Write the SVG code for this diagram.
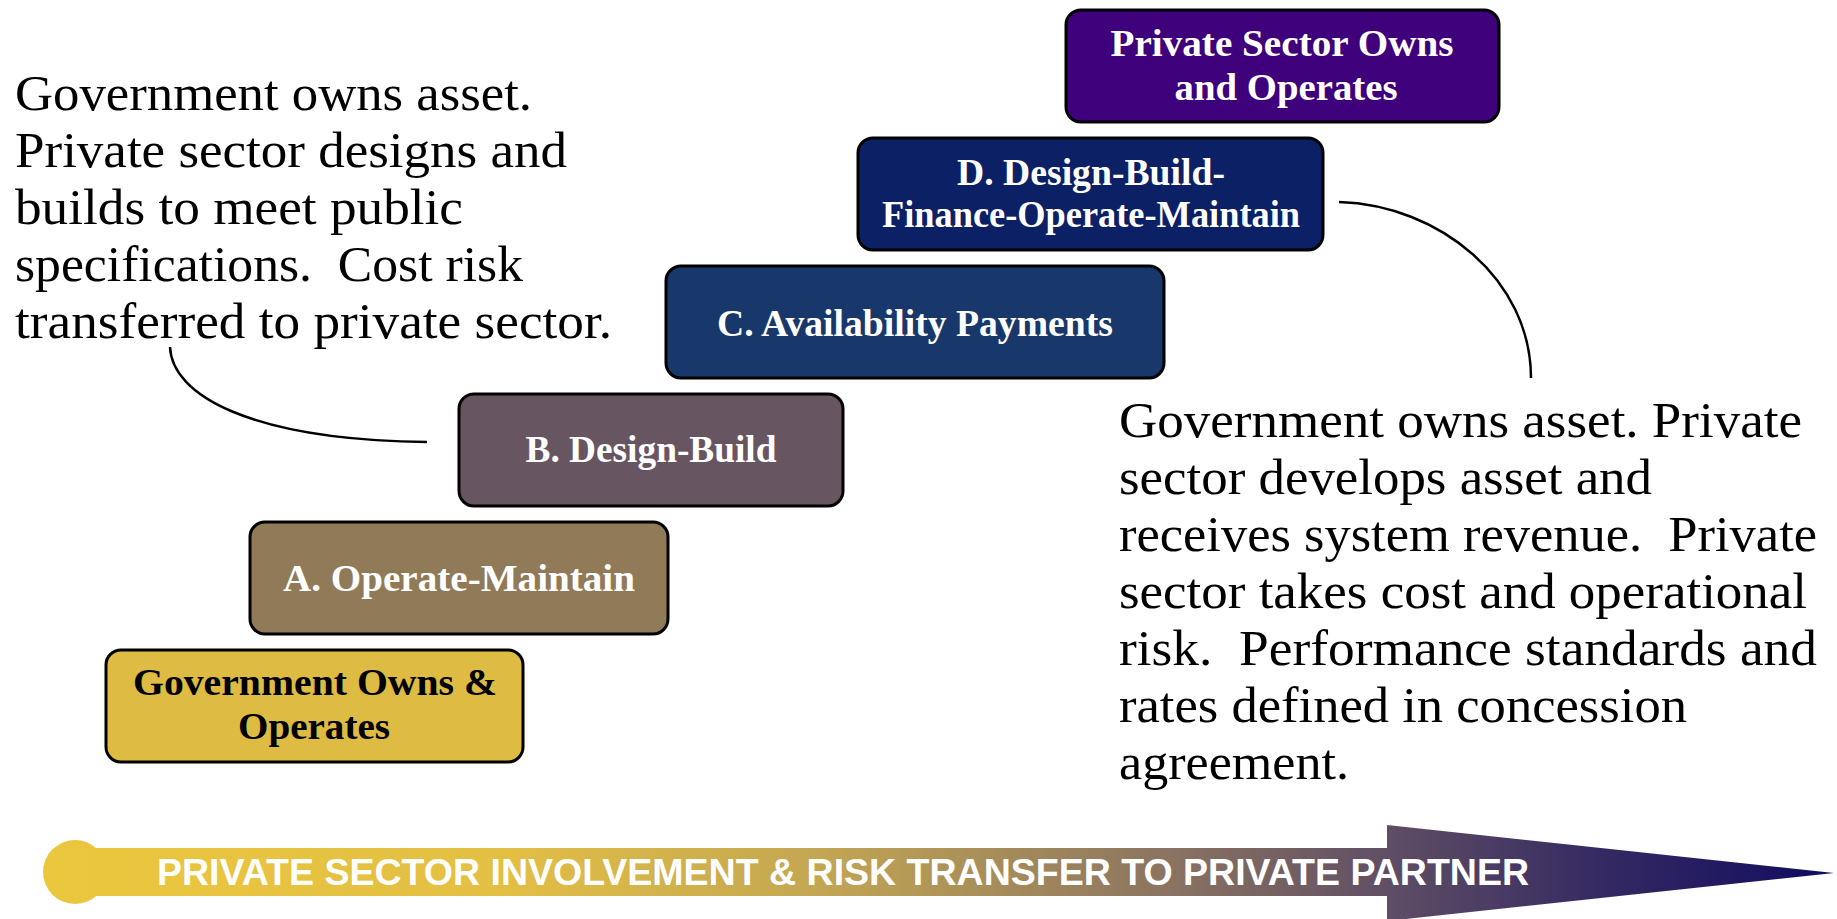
<svg xmlns="http://www.w3.org/2000/svg" width="1837" height="919" viewBox="0 0 1837 919">
  <defs>
    <style>
      .box { stroke: #000; stroke-width: 3; }
      .lbl { font-family: "Liberation Serif", "Times New Roman", serif; font-weight: bold; font-size: 38px; text-anchor: middle; fill: #fff; }
      .dark { fill: #000; }
      .note { font-family: "Liberation Serif", "Times New Roman", serif; font-size: 50px; fill: #000; }
      .conn { fill: none; stroke: #000; stroke-width: 2.5; }
      .band { font-family: "Liberation Sans", Arial, sans-serif; font-weight: bold; font-size: 36px; fill: #fff; }
    </style>
    <linearGradient id="arrowGrad" gradientUnits="userSpaceOnUse" x1="43" y1="0" x2="1834" y2="0">
      <stop offset="0" stop-color="#EBC73E"/>
      <stop offset="0.255" stop-color="#E3BF44"/>
      <stop offset="0.434" stop-color="#C3A653"/>
      <stop offset="0.63" stop-color="#8A7361"/>
      <stop offset="0.751" stop-color="#5F4E65"/>
      <stop offset="0.869" stop-color="#352A62"/>
      <stop offset="1" stop-color="#100B60"/>
    </linearGradient>
  </defs>

  <rect width="1837" height="919" fill="#fff"/>

  <!-- Bottom arrow -->
  <g id="arrow">
    <path d="M75,848 L1387,848 L1387,825 L1834,873 L1387,921 L1387,896 L75,896 Z" fill="url(#arrowGrad)"/>
    <circle cx="75" cy="872" r="32" fill="url(#arrowGrad)"/>
    <text class="band" x="157" y="885" textLength="1372" lengthAdjust="spacingAndGlyphs">PRIVATE SECTOR INVOLVEMENT &amp; RISK TRANSFER TO PRIVATE PARTNER</text>
  </g>

  <!-- Connectors -->
  <g id="connectors">
    <path class="conn" d="M170,347 C172,395 250,440 427,442"/>
    <path class="conn" d="M1339,202 C1440,205 1531,280 1531,378"/>
  </g>

  <!-- Nodes -->
  <g id="node-gov">
    <rect class="box" x="106" y="650" width="417" height="112" rx="15" fill="#DEBB43"/>
    <text class="lbl dark" x="315" y="695" textLength="364" lengthAdjust="spacingAndGlyphs">Government Owns &amp;</text>
    <text class="lbl dark" x="314" y="739" textLength="152" lengthAdjust="spacingAndGlyphs">Operates</text>
  </g>
  <g id="node-a">
    <rect class="box" x="250" y="522" width="418" height="112" rx="15" fill="#917A57"/>
    <text class="lbl" x="459" y="591" textLength="352" lengthAdjust="spacingAndGlyphs">A. Operate-Maintain</text>
  </g>
  <g id="node-b">
    <rect class="box" x="459" y="394" width="384" height="112" rx="15" fill="#675661"/>
    <text class="lbl" x="651" y="462" textLength="251" lengthAdjust="spacingAndGlyphs">B. Design-Build</text>
  </g>
  <g id="node-c">
    <rect class="box" x="666" y="266" width="498" height="112" rx="15" fill="#18386C"/>
    <text class="lbl" x="915" y="336" textLength="396" lengthAdjust="spacingAndGlyphs">C. Availability Payments</text>
  </g>
  <g id="node-d">
    <rect class="box" x="858" y="138" width="465" height="112" rx="15" fill="#0C2066"/>
    <text class="lbl" x="1091" y="185" textLength="268" lengthAdjust="spacingAndGlyphs">D. Design-Build-</text>
    <text class="lbl" x="1091" y="227" textLength="418" lengthAdjust="spacingAndGlyphs">Finance-Operate-Maintain</text>
  </g>
  <g id="node-private">
    <rect class="box" x="1066" y="10" width="433" height="112" rx="15" fill="#3F007C"/>
    <text class="lbl" x="1282" y="56" textLength="343" lengthAdjust="spacingAndGlyphs">Private Sector Owns</text>
    <text class="lbl" x="1286" y="100" textLength="223" lengthAdjust="spacingAndGlyphs">and Operates</text>
  </g>

  <!-- Notes -->
  <g id="note-left">
    <text class="note" x="15" y="110" textLength="517" lengthAdjust="spacingAndGlyphs">Government owns asset.</text>
    <text class="note" x="15" y="167" textLength="552" lengthAdjust="spacingAndGlyphs">Private sector designs and</text>
    <text class="note" x="15" y="224" textLength="448" lengthAdjust="spacingAndGlyphs">builds to meet public</text>
    <text class="note" x="15" y="281" textLength="508" lengthAdjust="spacingAndGlyphs" xml:space="preserve">specifications.  Cost risk</text>
    <text class="note" x="15" y="338" textLength="597" lengthAdjust="spacingAndGlyphs">transferred to private sector.</text>
  </g>
  <g id="note-right">
    <text class="note" x="1119" y="437" textLength="683" lengthAdjust="spacingAndGlyphs">Government owns asset. Private</text>
    <text class="note" x="1119" y="494" textLength="533" lengthAdjust="spacingAndGlyphs">sector develops asset and</text>
    <text class="note" x="1119" y="551" textLength="698" lengthAdjust="spacingAndGlyphs" xml:space="preserve">receives system revenue.  Private</text>
    <text class="note" x="1119" y="608" textLength="688" lengthAdjust="spacingAndGlyphs">sector takes cost and operational</text>
    <text class="note" x="1119" y="665" textLength="698" lengthAdjust="spacingAndGlyphs" xml:space="preserve">risk.  Performance standards and</text>
    <text class="note" x="1119" y="722" textLength="568" lengthAdjust="spacingAndGlyphs">rates defined in concession</text>
    <text class="note" x="1119" y="779" textLength="230" lengthAdjust="spacingAndGlyphs">agreement.</text>
  </g>
</svg>
